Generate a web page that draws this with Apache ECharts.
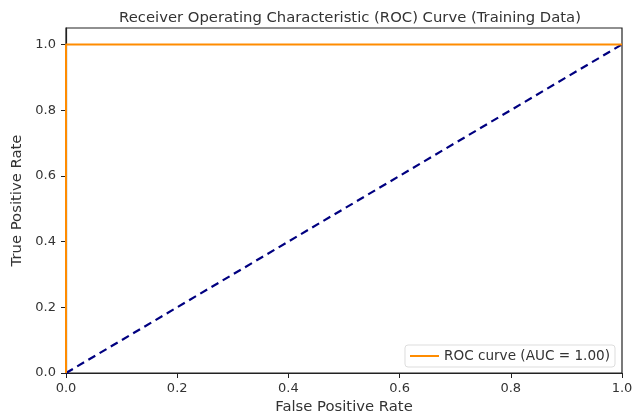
<!DOCTYPE html>
<html><head><meta charset="utf-8">
<script src="https://cdn.jsdelivr.net/npm/echarts@6/dist/echarts.min.js"></script>
<style>html,body{margin:0;padding:0;background:#fff}#c{width:632px;height:411px}</style>
</head><body><div id="c"></div>
<script>
const fpr = [0.0, 0.0, 1.0];
const tpr = [0.0, 1.0, 1.0];
const chanceX = [0.0, 1.0];
const chanceY = [0.0, 1.0];
const xTicks = [0.0, 0.2, 0.4, 0.6, 0.8, 1.0];
const yTicks = [0.0, 0.2, 0.4, 0.6, 0.8, 1.0];
const rocName = 'ROC curve (AUC = 1.00)';

const font = 'DejaVu Sans';
const chart = echarts.init(document.getElementById('c'));
chart.setOption({
  animation: false,
  title: {
    text: 'Receiver Operating Characteristic (ROC) Curve (Training Data)',
    left: 345, top: 6, textAlign: 'center',
    textStyle: {fontFamily: font, fontSize: 14.8, fontWeight: 'normal', color: '#333'}
  },
  legend: {
    right: 17, bottom: 44, itemWidth: 29, itemHeight: 2, itemGap: 10,
    backgroundColor: '#fff', borderColor: '#ddd', borderWidth: 1, borderRadius: 3,
    padding: [4, 5, 4, 5],
    textStyle: {fontFamily: font, fontSize: 13.6, color: '#333'},
    data: [{name: rocName, icon: 'rect'}]
  },
  grid: {left: 66, right: 10, top: 28, bottom: 38, containLabel: false, outerBoundsMode: 'none',
    show: true, borderColor: '#222', borderWidth: 1.2},
  xAxis: {
    type: 'value', min: 0, max: 1,
    name: 'False Positive Rate', nameLocation: 'middle', nameGap: 25,
    nameTextStyle: {fontFamily: font, fontSize: 14.8, color: '#333'},
    axisLine: {show: true, lineStyle: {color: '#222', width: 1.2}},
    axisTick: {show: true, length: 5, lineStyle: {color: '#222'}, customValues: xTicks},
    axisLabel: {fontFamily: font, fontSize: 13, color: '#333', margin: 9, customValues: xTicks,
      formatter: v => v.toFixed(1)},
    splitLine: {show: false}
  },
  yAxis: {
    type: 'value', min: 0, max: 1.05,
    name: 'True Positive Rate', nameLocation: 'middle', nameGap: 37,
    nameTextStyle: {fontFamily: font, fontSize: 14.8, color: '#333'},
    axisLine: {show: true, lineStyle: {color: '#222', width: 1.2}},
    axisTick: {show: true, length: 5, lineStyle: {color: '#222'}, customValues: yTicks},
    axisLabel: {fontFamily: font, fontSize: 13, color: '#333', margin: 10, customValues: yTicks,
      formatter: v => v.toFixed(1)},
    splitLine: {show: false}
  },
  series: [
    {
      name: rocName, type: 'line', showSymbol: false, symbol: 'none',
      data: fpr.map((x, i) => [x, tpr[i]]),
      lineStyle: {color: '#ff8c00', width: 2}, itemStyle: {color: '#ff8c00'},
      z: 3
    },
    {
      name: 'chance', type: 'line', showSymbol: false, symbol: 'none',
      data: chanceX.map((x, i) => [x, chanceY[i]]),
      lineStyle: {color: '#000080', width: 2.2, type: [8, 5]}, itemStyle: {color: '#000080'},
      z: 2
    }
  ]
});
</script></body></html>
